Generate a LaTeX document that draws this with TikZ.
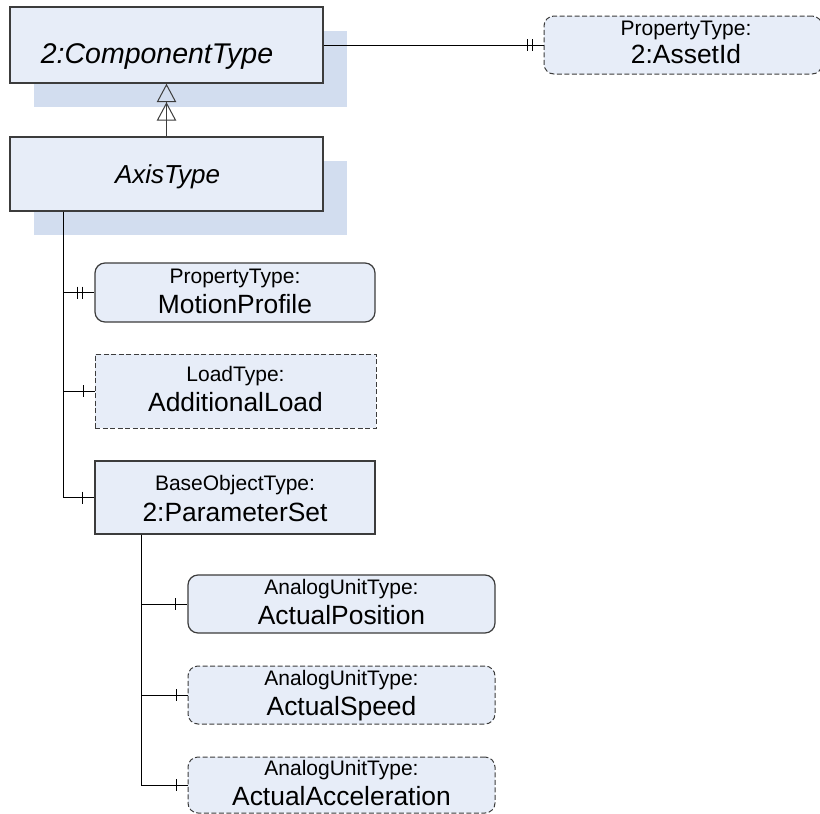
\documentclass[tikz,border=0pt]{standalone}
\usepackage{fontspec}
\setmainfont{Liberation Sans}
\usetikzlibrary{arrows.meta,shadows,calc}
\definecolor{boxfill}{HTML}{E7EDF8}
\definecolor{shadowfill}{HTML}{D2DDEF}
\definecolor{edge}{HTML}{3C3C3C}

\begin{document}
\begin{tikzpicture}[x=1pt,y=-1pt,
  umlbox/.style={draw=edge, line width=1.2pt, fill=boxfill, inner sep=0pt, rectangle},
  typebox/.style={umlbox, line width=1.4pt, general shadow={shadow xshift=24pt, shadow yshift=-24pt, fill=shadowfill, draw=none}},
  roundbox/.style={umlbox, rounded corners=10pt},
  dashround/.style={umlbox, line width=1pt, rounded corners=10pt, dash pattern=on 5pt off 2.5pt},
  dashbox/.style={umlbox, line width=1pt, dash pattern=on 5pt off 2.5pt},
  typetxt/.style={font=\fontsize{28.5}{32}\itshape\selectfont, anchor=base, inner sep=0pt},
  smalltxt/.style={font=\fontsize{21}{25}\selectfont, anchor=base, inner sep=0pt},
  bigtxt/.style={font=\fontsize{26.4}{30}\selectfont, anchor=base, inner sep=0pt},
  link/.style={line width=1pt, draw=black},
  gen/.style={line width=1pt, draw=edge,
    -{Triangle[open,length=18.5pt,width=19.5pt,sep=0pt]Triangle[open,length=18.5pt,width=19.5pt]}},
]
\useasboundingbox (0,0) rectangle (820,814);

% object types with their shadows
\node[typebox, minimum width=313pt, minimum height=76pt] (ct) at (166.5,45) {};
\node[typebox, minimum width=313pt, minimum height=74pt] (ax) at (166.5,174) {};
\node[typetxt] (ctname) at ($(ct.center)+(-9.5,18)$) {2:ComponentType};
\node[typetxt, font=\fontsize{26}{30}\itshape\selectfont] (axname) at ($(ax.center)+(1,9)$) {AxisType};

% trunk positions
\coordinate (t1) at (63,0);
\coordinate (t2) at (141,0);

% instance declarations
\node[dashround, minimum width=278pt, minimum height=58pt] (asset) at (683,45) {};
\node[roundbox, minimum width=280pt, minimum height=59pt] (mp) at (235,292.5) {};
\node[dashbox, minimum width=281pt, minimum height=74pt] (al) at (235.5,391) {};
\node[umlbox, minimum width=280pt, minimum height=73pt] (ps) at (235,497.5) {};
\node[roundbox, minimum width=307pt, minimum height=58pt] (apos) at (341.5,604) {};
\node[dashround, minimum width=307pt, minimum height=58pt] (aspd) at (341.5,695) {};
\node[dashround, minimum width=307pt, minimum height=56pt] (aacc) at (341.5,785) {};

% labels
\node[smalltxt] (assetT) at ($(asset.center)+(3,-10)$) {PropertyType:};
\node[bigtxt]   (assetN) at ($(asset.center)+(3,18.5)$) {2:AssetId};
\node[smalltxt] (mpT) at ($(mp.center)+(0,-9.5)$) {PropertyType:};
\node[bigtxt]   (mpN) at ($(mp.center)+(0,20.5)$) {MotionProfile};
\node[smalltxt] (alT) at ($(al.center)+(0,-9.5)$) {LoadType:};
\node[bigtxt]   (alN) at ($(al.center)+(0,20)$) {AdditionalLoad};
\node[smalltxt] (psT) at ($(ps.center)+(0,-7.5)$) {BaseObjectType:};
\node[bigtxt]   (psN) at ($(ps.center)+(0,24)$) {2:ParameterSet};
\node[smalltxt] (aposT) at ($(apos.center)+(0,-9.5)$) {AnalogUnitType:};
\node[bigtxt]   (aposN) at ($(apos.center)+(0,20)$) {ActualPosition};
\node[smalltxt] (aspdT) at ($(aspd.center)+(0,-9.5)$) {AnalogUnitType:};
\node[bigtxt]   (aspdN) at ($(aspd.center)+(0,20)$) {ActualSpeed};
\node[smalltxt] (aaccT) at ($(aacc.center)+(0,-9.5)$) {AnalogUnitType:};
\node[bigtxt]   (aaccN) at ($(aacc.center)+(0,20)$) {ActualAcceleration};

% generalization
\draw[gen] (ax.north) -- (ct.south);

% references
\draw[link] (ct.east) -- (asset.west);
\draw[link] (ax.south -| t1) |- (mp.west);
\draw[link] (ax.south -| t1) |- (al.west);
\draw[link] (ax.south -| t1) |- (ps.west);
\draw[link] (ps.south -| t2) |- (apos.west);
\draw[link] (ps.south -| t2) |- (aspd.west);
\draw[link] (ps.south -| t2) |- (aacc.west);

% multiplicity bars
\foreach \n in {asset,mp}{
  \draw[link] ($(\n.west)+(-11.5,-6)$) -- ++(0,12);
  \draw[link] ($(\n.west)+(-16.5,-6)$) -- ++(0,12);
}
\foreach \n in {al,ps,apos,aspd,aacc}{
  \draw[link] ($(\n.west)+(-11.5,-6)$) -- ++(0,12);
}
\end{tikzpicture}
\end{document}
